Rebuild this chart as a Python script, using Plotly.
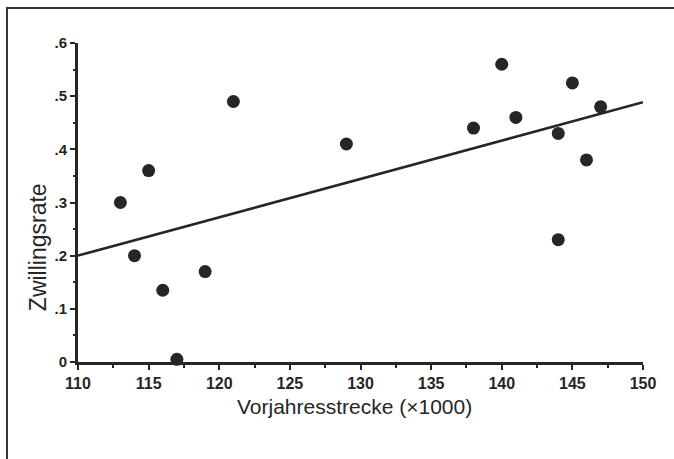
import numpy as np
import plotly.graph_objects as go

# Data
vorjahresstrecke = [113, 114, 115, 116, 117, 119, 121, 129, 138, 140, 141, 144, 144, 145, 146, 147]
zwillingsrate = [0.30, 0.20, 0.36, 0.135, 0.005, 0.17, 0.49, 0.41, 0.44, 0.56, 0.46, 0.43, 0.23, 0.525, 0.38, 0.48]

x_tick_vals = [110, 115, 120, 125, 130, 135, 140, 145, 150]
x_tick_text = ["110", "115", "120", "125", "130", "135", "140", "145", "150"]
y_tick_vals = [0, 0.1, 0.2, 0.3, 0.4, 0.5, 0.6]
y_tick_text = ["0", ".1", ".2", ".3", ".4", ".5", ".6"]
x_title = "Vorjahresstrecke (×1000)"
y_title = "Zwillingsrate"

# least-squares regression line over the axis range
slope, intercept = np.polyfit(vorjahresstrecke, zwillingsrate, 1)
fit_x = [110, 150]
fit_y = [slope * v + intercept for v in fit_x]

ink = "#262626"

fig = go.Figure()
fig.add_trace(go.Scatter(x=fit_x, y=fit_y, mode="lines",
                         line=dict(color=ink, width=2.6), hoverinfo="skip"))
fig.add_trace(go.Scatter(x=vorjahresstrecke, y=zwillingsrate, mode="markers",
                         marker=dict(color=ink, size=13, line=dict(width=0)),
                         cliponaxis=False))

fig.update_layout(
    width=674, height=459,
    margin=dict(l=78, r=31, t=43, b=97, autoexpand=False),
    paper_bgcolor="white", plot_bgcolor="white",
    showlegend=False,
    font=dict(family="Liberation Sans, Arial, sans-serif", color=ink),
)
fig.update_xaxes(
    range=[110, 150], showgrid=False, zeroline=False,
    showline=True, linecolor=ink, linewidth=3,
    tickmode="array", tickvals=x_tick_vals, ticktext=x_tick_text,
    ticks="outside", ticklen=5, tickwidth=2, tickcolor=ink,
    tickfont=dict(size=16, weight="bold", color=ink),
    minor=dict(dtick=2.5, ticks="outside", ticklen=3, tickwidth=1.5, tickcolor=ink),
)
fig.update_yaxes(
    range=[0, 0.6], showgrid=False, zeroline=False,
    showline=True, linecolor=ink, linewidth=3,
    tickmode="array", tickvals=y_tick_vals, ticktext=y_tick_text,
    ticks="outside", ticklen=5, tickwidth=2, tickcolor=ink,
    tickfont=dict(size=15, weight="bold", color=ink),
    minor=dict(dtick=0.05, ticks="outside", ticklen=2, tickwidth=1.5, tickcolor=ink),
)

# axis titles (placed as in the original)
fig.add_annotation(text=x_title, xref="paper", yref="paper", x=0.4885, y=-0.141,
                   xanchor="center", yanchor="middle", showarrow=False,
                   font=dict(size=21, color=ink))
fig.add_annotation(text=y_title, xref="paper", yref="paper", x=-0.0708, y=0.36,
                   xanchor="center", yanchor="middle", showarrow=False, textangle=-90,
                   font=dict(size=23, color=ink))

# outer frame around the figure
fig.add_shape(type="rect", xref="paper", yref="paper",
              x0=-0.1257, x1=1.058, y0=-0.32, y1=1.1097,
              line=dict(color="#333333", width=2), layer="below")

fig.write_html("out.html", config={"displayModeBar": False},
               post_script="document.body.style.margin='0px';")
